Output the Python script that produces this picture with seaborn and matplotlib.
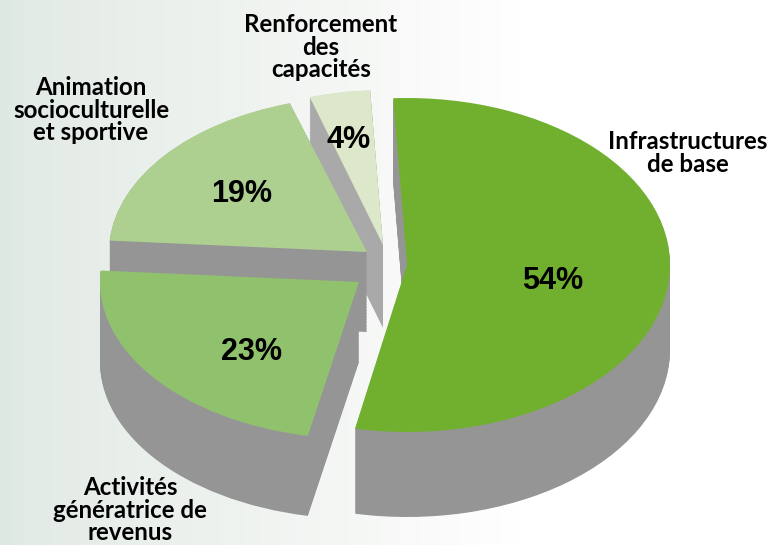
import numpy as np
import matplotlib.pyplot as plt
from matplotlib.colors import LinearSegmentedColormap
import seaborn as sns

# values, clockwise from the top
categories = ["Infrastructures\nde base", "Activités\ngénératrice de\nrevenus",
              "Animation\nsocioculturelle\net sportive", "Renforcement\ndes\ncapacités"]
shares = [54, 23, 19, 4]

# look of each slice
top_colors = ["#71B02F", "#90C26E", "#ADD091", "#DCE8C9"]
wall_colors = ["#959595", "#959595", "#959595", "#A9A9A9"]
apex_px = [(407, 265), (359, 282), (367, 252), (383, 245)]
rx_px = [263, 259, 258, 245]
ry_px = [167, 157, 156, 155]
depth_px = [85, 80, 80, 83]
draw_order = [3, 2, 0, 1]

W, H = 768, 545

sns.set_theme(style="white")
plt.rcParams["font.family"] = ["Liberation Sans", "DejaVu Sans"]

fig = plt.figure(figsize=(W / 100, H / 100), dpi=100)

# background gradient, left to right
bg = fig.add_axes([0, 0, 1, 1], zorder=0)
bg_cmap = LinearSegmentedColormap.from_list(
    "bg", [(0, "#DDE8E3"), (0.03, "#E3EBE7"), (0.25, "#ECF1ED"), (0.52, "#F8F9F8"), (0.68, "#FFFFFF"), (1, "#FFFFFF")])
bg.imshow(np.linspace(0, 1, W).reshape(1, -1), aspect="auto", cmap=bg_cmap, vmin=0, vmax=1)
bg.axis("off")


def draw_layer(ax, k, dy, color):
    wedges = ax.pie(shares, startangle=93, counterclock=False, center=(0, -dy / ry_px[k]),
                    colors=[color] * len(shares), wedgeprops={"linewidth": 0})[0]
    for i, w in enumerate(wedges):
        if i != k:
            w.remove()


# one axes per slice: each has its own ellipse in the picture
for order, k in enumerate(draw_order):
    ax = fig.add_axes([0, 0, 1, 1], zorder=1 + order)
    ax.patch.set_alpha(0)
    for dy in np.arange(depth_px[k], 0, -1.5):
        draw_layer(ax, k, dy, wall_colors[k])
    draw_layer(ax, k, 0, top_colors[k])
    ax.set_aspect("auto")
    ax.set_xlim(-apex_px[k][0] / rx_px[k], (W - apex_px[k][0]) / rx_px[k])
    ax.set_ylim((apex_px[k][1] - H) / ry_px[k], apex_px[k][1] / ry_px[k])
    ax.axis("off")

# percentages
pct_pos = [(553, 281), (252, 352), (242, 194), (349, 140)]
for s, (x, y) in zip(shares, pct_pos):
    fig.text(x / W, 1 - y / H, f"{s}%", fontsize=22, fontweight="bold", ha="center", va="center",
             color="#000000", zorder=10)

# category labels
label_pos = [(688, 153), (130, 510), (91, 110), (321, 47)]
for name, (x, y) in zip(categories, label_pos):
    fig.text(x / W, 1 - y / H, name, fontsize=17.4, fontweight="bold", ha="center", va="center",
             linespacing=0.97, color="#000000", family=["Lato", "DejaVu Sans"], zorder=10)

fig.savefig("out.png", dpi=100)
